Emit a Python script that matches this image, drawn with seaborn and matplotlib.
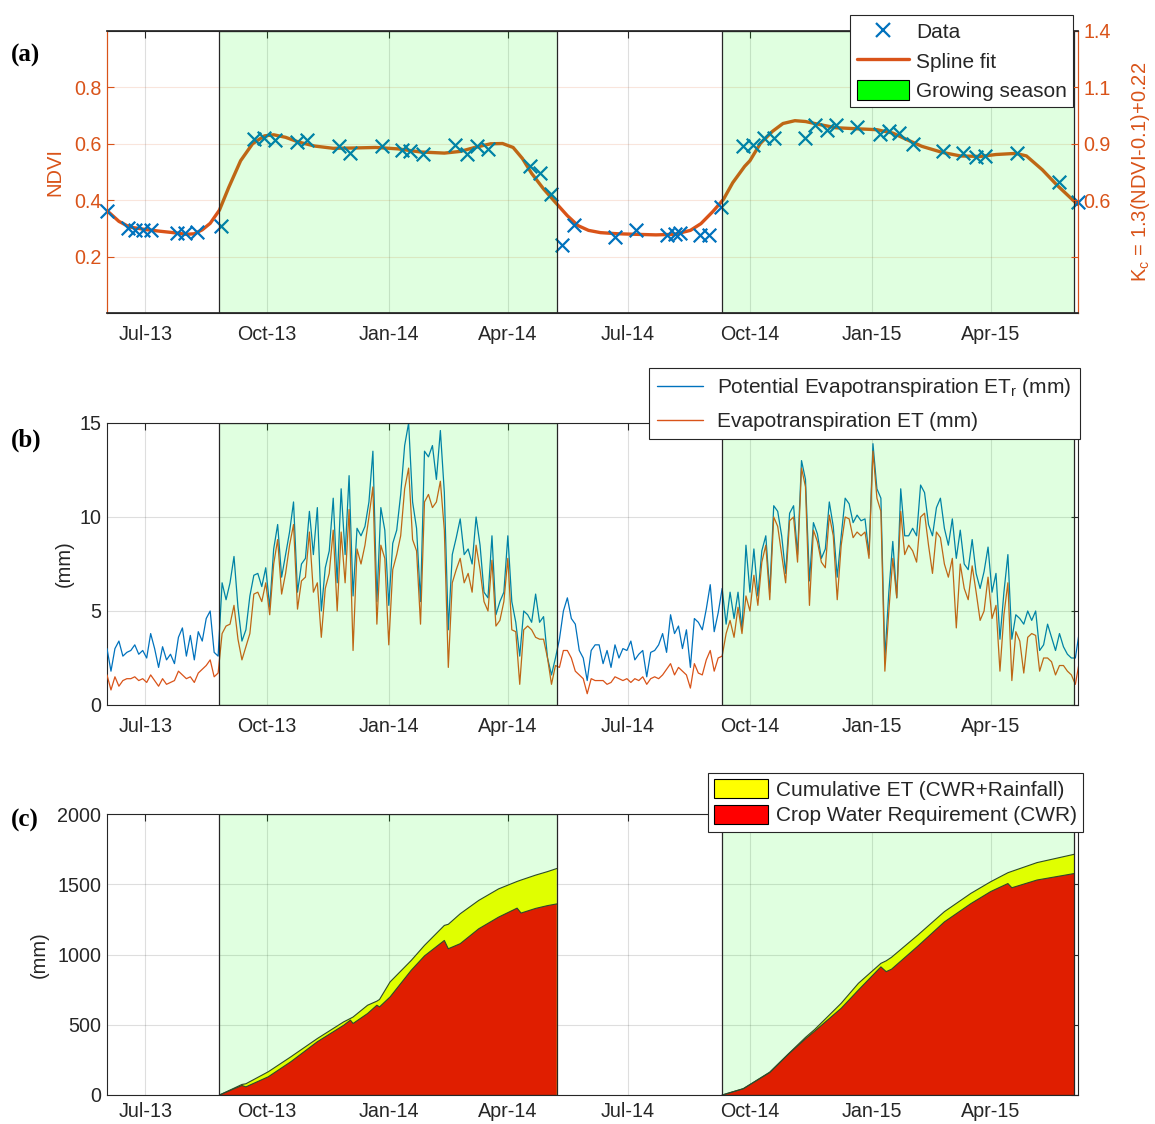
import numpy as np
import pandas as pd
import matplotlib
matplotlib.use("Agg")
import matplotlib.pyplot as plt
import matplotlib.dates as mdates
from matplotlib.patches import Patch
from matplotlib.lines import Line2D
import seaborn as sns

# ---------------- data ----------------
season_start = ["2013-08-26", "2014-09-10"]
season_end = ["2014-05-08", "2015-06-03"]
x_min, x_max = "2013-06-02", "2015-06-06"

ndvi_dates = ["2013-06-02", "2013-06-18", "2013-06-23", "2013-06-29", "2013-07-05",
              "2013-07-25", "2013-07-31", "2013-08-09", "2013-08-27", "2013-09-21",
              "2013-09-29", "2013-10-07", "2013-10-24", "2013-10-31", "2013-11-24",
              "2013-12-03", "2013-12-27", "2014-01-11", "2014-01-17", "2014-01-27",
              "2014-02-20", "2014-03-01", "2014-03-09", "2014-03-17", "2014-04-18",
              "2014-04-25", "2014-05-04", "2014-05-12", "2014-05-21", "2014-06-21",
              "2014-07-07", "2014-07-30", "2014-08-05", "2014-08-09", "2014-08-24",
              "2014-08-31", "2014-09-09", "2014-09-26", "2014-10-03", "2014-10-12",
              "2014-10-19", "2014-11-12", "2014-11-19", "2014-11-28", "2014-12-05",
              "2014-12-21", "2015-01-07", "2015-01-14", "2015-01-22", "2015-02-01",
              "2015-02-24", "2015-03-11", "2015-03-21", "2015-03-28", "2015-04-21",
              "2015-05-23", "2015-06-06"]
ndvi_values = [0.363, 0.303, 0.295, 0.295, 0.295,
               0.285, 0.285, 0.289, 0.310, 0.617,
               0.622, 0.614, 0.605, 0.614, 0.591,
               0.567, 0.591, 0.579, 0.576, 0.564,
               0.596, 0.564, 0.593, 0.581, 0.520,
               0.496, 0.421, 0.241, 0.313, 0.269,
               0.295, 0.275, 0.279, 0.283, 0.275,
               0.275, 0.375, 0.591, 0.596, 0.620,
               0.622, 0.622, 0.667, 0.650, 0.667,
               0.658, 0.634, 0.646, 0.640, 0.600,
               0.576, 0.569, 0.553, 0.557, 0.569,
               0.463, 0.392]

spline_dates = ["2013-06-02", "2013-06-11", "2013-06-19", "2013-07-01", "2013-07-12",
                "2013-07-24", "2013-08-01", "2013-08-07", "2013-08-13", "2013-08-19",
                "2013-08-26", "2013-09-02", "2013-09-11", "2013-09-20", "2013-09-29",
                "2013-10-06", "2013-10-15", "2013-10-25", "2013-11-06", "2013-11-20",
                "2013-12-04", "2013-12-22", "2014-01-08", "2014-01-25", "2014-02-12",
                "2014-02-24", "2014-03-07", "2014-03-19", "2014-03-28", "2014-04-05",
                "2014-04-12", "2014-04-19", "2014-04-28", "2014-05-07", "2014-05-16",
                "2014-05-24", "2014-06-01", "2014-06-10", "2014-06-23", "2014-07-07",
                "2014-07-22", "2014-08-05", "2014-08-17", "2014-08-25", "2014-09-03",
                "2014-09-11", "2014-09-18", "2014-09-27", "2014-10-01", "2014-10-09",
                "2014-10-18", "2014-10-26", "2014-11-04", "2014-11-12", "2014-11-24",
                "2014-12-05", "2014-12-22", "2015-01-05", "2015-01-17", "2015-01-28",
                "2015-02-08", "2015-02-23", "2015-03-09", "2015-03-24", "2015-04-05",
                "2015-04-20", "2015-04-28", "2015-05-10", "2015-05-21", "2015-06-02",
                "2015-06-06"]
spline_values = [0.363, 0.325, 0.305, 0.296, 0.290, 0.284, 0.279, 0.281, 0.295, 0.318,
                 0.365, 0.445, 0.540, 0.600, 0.628, 0.632, 0.623, 0.606, 0.592, 0.584,
                 0.585, 0.587, 0.582, 0.571, 0.567, 0.573, 0.587, 0.600, 0.601, 0.587,
                 0.548, 0.495, 0.440, 0.392, 0.345, 0.310, 0.293, 0.285, 0.281, 0.279,
                 0.277, 0.279, 0.293, 0.317, 0.360, 0.403, 0.462, 0.520, 0.540, 0.602,
                 0.644, 0.672, 0.682, 0.679, 0.667, 0.657, 0.653, 0.650, 0.638, 0.614,
                 0.591, 0.570, 0.557, 0.555, 0.562, 0.566, 0.557, 0.508, 0.454, 0.401,
                 0.385]

# daily ET series, sampled every 3 days from 2013-06-02
et_first_day = "2013-06-02"
et_step = "3D"
pet_mm = [3.0, 1.8, 3.0, 3.4, 2.6, 2.8, 2.9, 3.2, 2.7, 2.9,
          2.5, 3.8, 3.0, 2.0, 3.1, 2.4, 2.7, 2.2, 3.6, 4.1,
          2.6, 3.7, 2.4, 3.9, 3.4, 4.6, 5.0, 2.8, 2.6, 6.5,
          5.6, 6.5, 7.9, 5.2, 3.4, 4.0, 5.8, 6.9, 7.0, 6.3,
          7.3, 5.2, 8.3, 9.6, 6.8, 8.0, 9.2, 10.8, 6.0, 7.5,
          7.8, 10.3, 8.0, 10.5, 5.0, 7.3, 8.2, 11.0, 6.5, 11.5,
          8.0, 12.2, 5.8, 9.4, 9.0, 9.5, 10.8, 13.5, 5.5, 10.5,
          9.3, 5.3, 8.6, 9.3, 11.2, 13.8, 15.0, 10.8, 9.4, 5.5,
          13.5, 13.2, 13.8, 12.0, 14.6, 11.3, 4.0, 8.0, 8.9, 9.9,
          8.0, 8.3, 7.5, 10.0, 8.5, 6.0, 5.7, 9.0, 4.8, 5.5,
          6.0, 9.0, 5.5, 4.4, 2.6, 5.0, 4.8, 4.4, 5.9, 4.4,
          4.7, 2.5, 1.6, 2.5, 3.5, 5.0, 5.7, 4.6, 4.3, 2.9,
          2.5, 1.3, 2.9, 3.2, 3.2, 2.2, 2.9, 2.0, 3.2, 2.5,
          3.0, 2.9, 3.4, 2.4, 2.7, 2.9, 1.5, 2.8, 2.9, 3.2,
          3.8, 2.8, 4.8, 3.8, 4.2, 3.0, 4.0, 2.0, 4.6,
          4.4, 4.0, 5.1, 6.4, 3.9, 4.9, 6.2, 4.3, 6.0, 4.6, 6.0,
          4.0, 8.5, 6.0, 8.3, 5.8, 8.2, 9.0, 6.0, 10.6, 10.3,
          9.0, 7.0, 10.2, 10.6, 8.0, 13.0, 12.0, 6.6, 9.7, 9.1,
          7.8, 8.3, 10.8, 9.5, 6.8, 9.0, 11.0, 10.7, 9.7, 10.1,
          9.8, 9.9, 8.0, 13.9, 11.5, 11.0, 2.5, 6.0,
          8.7, 5.7, 11.5, 9.0, 9.0, 9.4, 9.0, 11.7, 11.3, 9.6,
          9.0, 10.5, 11.0, 9.4, 8.5, 9.9, 7.8, 9.3, 7.5, 7.2,
          8.8, 7.0, 6.2, 7.1, 8.4, 6.0, 7.0, 3.5, 6.0, 8.0,
          3.5, 4.8, 4.6, 4.3, 5.0, 4.5, 5.0, 2.9, 3.2, 4.3,
          3.6, 2.9, 3.8, 3.1, 2.7, 2.5, 2.5, 3.9]
et_mm = [1.6, 0.8, 1.5, 1.0, 1.3, 1.4, 1.4, 1.5, 1.3, 1.4,
         1.2, 1.6, 1.3, 1.0, 1.4, 1.1, 1.2, 1.3, 1.8, 1.6,
         1.4, 1.5, 1.2, 1.7, 1.9, 2.1, 2.4, 1.5, 1.7, 3.8,
         4.2, 4.3, 5.3, 3.5, 2.4, 3.1, 3.8, 5.9, 6.0, 5.5,
         6.5, 4.8, 7.5, 8.8, 5.9, 7.0, 8.5, 9.6, 5.1, 6.6,
         6.8, 9.2, 6.0, 6.5, 3.6, 6.2, 7.0, 9.3, 5.0, 9.2,
         6.5, 10.4, 2.9, 8.3, 7.5, 8.5, 10.0, 11.6, 4.3, 8.5,
         7.8, 3.2, 7.2, 8.0, 9.0, 11.5, 12.6, 8.8, 8.2, 4.3,
         10.8, 11.2, 10.5, 10.8, 11.9, 9.3, 2.0, 6.5, 7.2, 7.8,
         6.5, 7.0, 6.0, 8.5, 7.2, 5.5, 5.0, 7.7, 4.2, 4.5,
         5.5, 7.8, 4.0, 3.9, 1.1, 4.0, 4.2, 4.0, 3.6, 3.5,
         3.5, 2.5, 1.1, 2.1, 2.0, 2.9, 2.9, 2.5, 1.8, 1.6,
         1.4, 0.6, 1.4, 1.3, 1.3, 1.3, 1.1, 1.2, 1.5, 1.4,
         1.3, 1.4, 1.2, 1.4, 1.3, 1.5, 1.1, 1.4, 1.5, 1.4,
         1.6, 1.9, 2.2, 1.6, 2.0, 1.8, 1.6, 0.9, 2.2,
         1.7, 1.6, 2.4, 2.9, 1.8, 2.5, 2.6, 3.8, 4.5, 3.6, 5.2,
         3.8, 5.8, 5.0, 6.9, 5.3, 7.6, 8.5, 5.6, 10.0, 9.5,
         8.0, 6.5, 9.8, 10.0, 7.6, 12.6, 11.6, 5.3, 9.3, 8.7,
         7.6, 7.3, 10.1, 9.0, 5.6, 8.5, 10.0, 9.9, 8.9, 9.2,
         9.0, 9.2, 7.8, 13.5, 11.0, 10.3, 1.8, 5.0,
         7.8, 5.7, 10.3, 8.0, 8.5, 8.2, 7.6, 10.0, 10.2, 8.5,
         7.0, 9.2, 8.9, 7.5, 6.8, 7.8, 4.1, 7.5, 6.2, 5.6,
         7.4, 6.0, 4.5, 5.0, 6.8, 4.6, 5.3, 1.8, 4.8, 6.5,
         1.3, 3.9, 3.4, 1.7, 3.6, 3.8, 3.7, 1.8, 2.5, 2.5,
         2.3, 1.6, 2.1, 2.1, 1.8, 1.6, 1.1, 2.3]

# cumulative water use per growing season (mm)
cum_dates_1 = ["2013-08-26", "2013-09-12", "2013-09-15", "2013-10-02", "2013-10-19",
               "2013-11-08", "2013-11-28", "2013-12-03", "2013-12-05", "2013-12-16",
               "2013-12-23", "2013-12-25", "2014-01-02", "2014-01-18", "2014-01-28",
               "2014-02-12", "2014-02-15", "2014-02-24", "2014-03-10", "2014-03-25",
               "2014-04-08", "2014-04-11", "2014-04-22", "2014-05-01", "2014-05-08"]
cum_et_1 = [0, 75, 80, 166, 272, 402, 521, 545, 555, 639, 668, 680, 805, 958, 1065,
            1207, 1215, 1290, 1385, 1467, 1520, 1530, 1565, 1590, 1612]
cwr_1 = [0, 68, 58, 130, 237, 379, 497, 533, 509, 580, 639, 627, 698, 888, 990,
         1100, 1041, 1077, 1183, 1266, 1330, 1295, 1328, 1348, 1360]
cum_dates_2 = ["2014-09-10", "2014-09-26", "2014-10-16", "2014-10-30", "2014-11-12",
               "2014-11-19", "2014-12-09", "2014-12-22", "2015-01-08", "2015-01-12",
               "2015-01-16", "2015-02-05", "2015-02-25", "2015-03-17", "2015-04-01",
               "2015-04-14", "2015-04-17", "2015-05-06", "2015-06-03"]
cum_et_2 = [0, 45, 163, 292, 410, 467, 653, 795, 937, 955, 980, 1139, 1305, 1435,
            1518, 1582, 1592, 1654, 1713]
cwr_2 = [0, 45, 160, 290, 400, 455, 617, 747, 912, 878, 895, 1060, 1232, 1362,
         1448, 1505, 1475, 1530, 1576]

kc_tick_labels = ["", "0.6", "0.9", "1.1", "1.4"]

# ---------------- style ----------------
sns.set_theme(style="white")
plt.rcParams["font.family"] = ["Liberation Sans", "DejaVu Sans"]
plt.rcParams["mathtext.default"] = "regular"

BLUE = "#0072BD"
ORANGE = "#D95319"
DARK = "#262626"
SEASON_FACE = (0.0, 1.0, 0.0, 0.12)
TICK_FS = 14.2
LAB_FS = 14.5
LEG_FS = 15

xmin, xmax = pd.Timestamp(x_min), pd.Timestamp(x_max)

ndvi_df = pd.DataFrame({"date": pd.to_datetime(ndvi_dates), "ndvi": ndvi_values})
spline_df = pd.DataFrame({"date": pd.to_datetime(spline_dates), "ndvi": spline_values})
et_dates = pd.date_range(et_first_day, periods=len(pet_mm), freq=et_step)
et_df = pd.DataFrame({"date": et_dates, "pet": pet_mm, "et": et_mm})
cum_df = pd.concat([
    pd.DataFrame({"date": pd.to_datetime(cum_dates_1), "cum_et": cum_et_1, "cwr": cwr_1, "season": 1}),
    pd.DataFrame({"date": pd.to_datetime(cum_dates_2), "cum_et": cum_et_2, "cwr": cwr_2, "season": 2}),
])

W, H = 1155, 1124
fig = plt.figure(figsize=(W / 100, H / 100), dpi=100)
L, R = 107, 1078
def axes_box(top, bottom):
    return [L / W, 1 - bottom / H, (R - L) / W, (bottom - top) / H]

ax_a = fig.add_axes(axes_box(31, 313))
ax_b = fig.add_axes(axes_box(423, 705))
ax_c = fig.add_axes(axes_box(814, 1095))


def base_style(ax, xpad=9):
    ax.set_xlim(xmin, xmax)
    ax.xaxis.set_major_locator(mdates.MonthLocator(bymonth=[1, 4, 7, 10]))
    ax.xaxis.set_major_formatter(mdates.DateFormatter("%b-%y"))
    ax.tick_params(axis="both", direction="in", length=5, width=0.8, top=True,
                   right=True, labelsize=TICK_FS, colors=DARK)
    ax.tick_params(axis="x", pad=xpad)
    ax.tick_params(axis="y", pad=4)
    ax.grid(True, axis="x", color=DARK, alpha=0.15, lw=0.8)
    for s in ax.spines.values():
        s.set_color(DARK)
        s.set_linewidth(0.8)
    ax.set_xlabel("")
    ax.set_axisbelow(True)


def add_seasons(ax):
    for s, e in zip(season_start, season_end):
        ax.axvspan(pd.Timestamp(s), pd.Timestamp(e), facecolor=SEASON_FACE,
                   edgecolor=DARK, linewidth=0.9, zorder=6)


def legend_style(leg):
    leg.get_frame().set_linewidth(0.8)
    leg.set_zorder(20)


# ---------------- panel (a) ----------------
base_style(ax_a)
sns.lineplot(data=spline_df, x="date", y="ndvi", color=ORANGE, lw=2.4, ax=ax_a,
             zorder=3, legend=False)
sns.scatterplot(data=ndvi_df, x="date", y="ndvi", marker="x", s=95, color=BLUE,
                linewidth=1.6, ax=ax_a, zorder=4, legend=False, clip_on=False)
add_seasons(ax_a)
ax_a.set_ylim(0, 1)
ax_a.set_yticks([0.2, 0.4, 0.6, 0.8])
ax_a.grid(True, axis="y", color=ORANGE, alpha=0.15, lw=0.8)
ax_a.tick_params(axis="y", colors=ORANGE, right=False)
ax_a.spines["left"].set_color(ORANGE)
ax_a.spines["right"].set_color(ORANGE)
ax_a.set_xlabel("")
ax_a.set_ylabel("NDVI", color=ORANGE, fontsize=LAB_FS, labelpad=7)

tw = ax_a.twinx()
tw.set_ylim(0, 1)
tw.set_yticks([0.2, 0.4, 0.6, 0.8, 1.0])
tw.set_yticklabels(kc_tick_labels)
tw.tick_params(axis="y", direction="in", length=5, width=0.8, colors=ORANGE,
               labelsize=TICK_FS, pad=4)
tw.spines["right"].set_color(ORANGE)
tw.spines["right"].set_linewidth(0.8)
tw.spines["left"].set_color(ORANGE)
tw.spines["left"].set_linewidth(0.8)
tw.spines["top"].set_color(DARK)
tw.spines["bottom"].set_color(DARK)
tw.set_ylabel("K$_{c}$ = 1.3(NDVI-0.1)+0.22", color=ORANGE, fontsize=LAB_FS,
              labelpad=13)

leg_a = tw.legend(
    handles=[Line2D([], [], marker="x", ls="none", color=BLUE, markersize=10, mew=1.6),
             Line2D([], [], color=ORANGE, lw=2.4),
             Patch(facecolor="#00FF00", edgecolor="black", lw=0.8)],
    labels=["Data", "Spline fit", "Growing season"],
    loc="upper right", bbox_to_anchor=(1073 / W, 1 - 15 / H),
    bbox_transform=fig.transFigure, borderaxespad=0, fontsize=LEG_FS,
    frameon=True, fancybox=False, framealpha=1, edgecolor=DARK,
    handlelength=2.5, handleheight=1.1, handletextpad=0.35, labelspacing=0.4,
    borderpad=0.3)
legend_style(leg_a)

# ---------------- panel (b) ----------------
base_style(ax_b)
sns.lineplot(data=et_df, x="date", y="pet", color=BLUE, lw=0.9, ax=ax_b, zorder=3,
             legend=False)
sns.lineplot(data=et_df, x="date", y="et", color=ORANGE, lw=0.9, ax=ax_b, zorder=3,
             legend=False)
add_seasons(ax_b)
ax_b.set_ylim(0, 15)
ax_b.set_yticks([0, 5, 10, 15])
ax_b.grid(True, axis="y", color=DARK, alpha=0.15, lw=0.8)
ax_b.set_xlabel("")
ax_b.set_ylabel("(mm)", fontsize=LAB_FS, color=DARK, labelpad=4)
leg_b = ax_b.legend(
    handles=[Line2D([], [], color=BLUE, lw=1.0), Line2D([], [], color=ORANGE, lw=1.0)],
    labels=["Potential Evapotranspiration ET$_{r}$ (mm)", "Evapotranspiration ET (mm)"],
    loc="upper right", bbox_to_anchor=(1080 / W, 1 - 368 / H),
    bbox_transform=fig.transFigure, borderaxespad=0, fontsize=LEG_FS,
    frameon=True, fancybox=False, framealpha=1, edgecolor=DARK,
    handlelength=2.2, handletextpad=0.7, labelspacing=0.6, borderpad=0.4)
legend_style(leg_b)

# ---------------- panel (c) ----------------
base_style(ax_c, xpad=5)
for season, grp in cum_df.groupby("season"):
    ax_c.fill_between(grp["date"], 0, grp["cum_et"], facecolor="#FFFF00",
                      edgecolor="none", zorder=2)
    ax_c.fill_between(grp["date"], 0, grp["cwr"], facecolor="#FF0000",
                      edgecolor="none", zorder=2.2)
    sns.lineplot(x=grp["date"], y=grp["cum_et"], color="#333333", lw=0.8, ax=ax_c,
                 zorder=2.5, legend=False)
    sns.lineplot(x=grp["date"], y=grp["cwr"], color="#333333", lw=0.8, ax=ax_c,
                 zorder=2.5, legend=False)
add_seasons(ax_c)
ax_c.set_ylim(0, 2000)
ax_c.set_yticks([0, 500, 1000, 1500, 2000])
ax_c.grid(True, axis="y", color=DARK, alpha=0.15, lw=0.8)
ax_c.set_xlabel("")
ax_c.set_ylabel("(mm)", fontsize=LAB_FS, color=DARK, labelpad=6)
leg_c = ax_c.legend(
    handles=[Patch(facecolor="#FFFF00", edgecolor="black", lw=0.8),
             Patch(facecolor="#FF0000", edgecolor="black", lw=0.8)],
    labels=["Cumulative ET (CWR+Rainfall)", "Crop Water Requirement (CWR)"],
    loc="upper right", bbox_to_anchor=(1083 / W, 1 - 773 / H),
    bbox_transform=fig.transFigure, borderaxespad=0, fontsize=LEG_FS,
    frameon=True, fancybox=False, framealpha=1, edgecolor=DARK,
    handlelength=2.6, handleheight=1.0, handletextpad=0.35, labelspacing=0.25,
    borderpad=0.3)
legend_style(leg_c)

# ---------------- panel letters ----------------
for lab, yc in [("(a)", 55), ("(b)", 440), ("(c)", 820)]:
    fig.text(11 / W, 1 - yc / H, lab, fontsize=18, fontweight="bold",
             family=["Liberation Serif", "DejaVu Serif"], va="center", ha="left",
             color="black")

fig.savefig("out.png", dpi=100)
